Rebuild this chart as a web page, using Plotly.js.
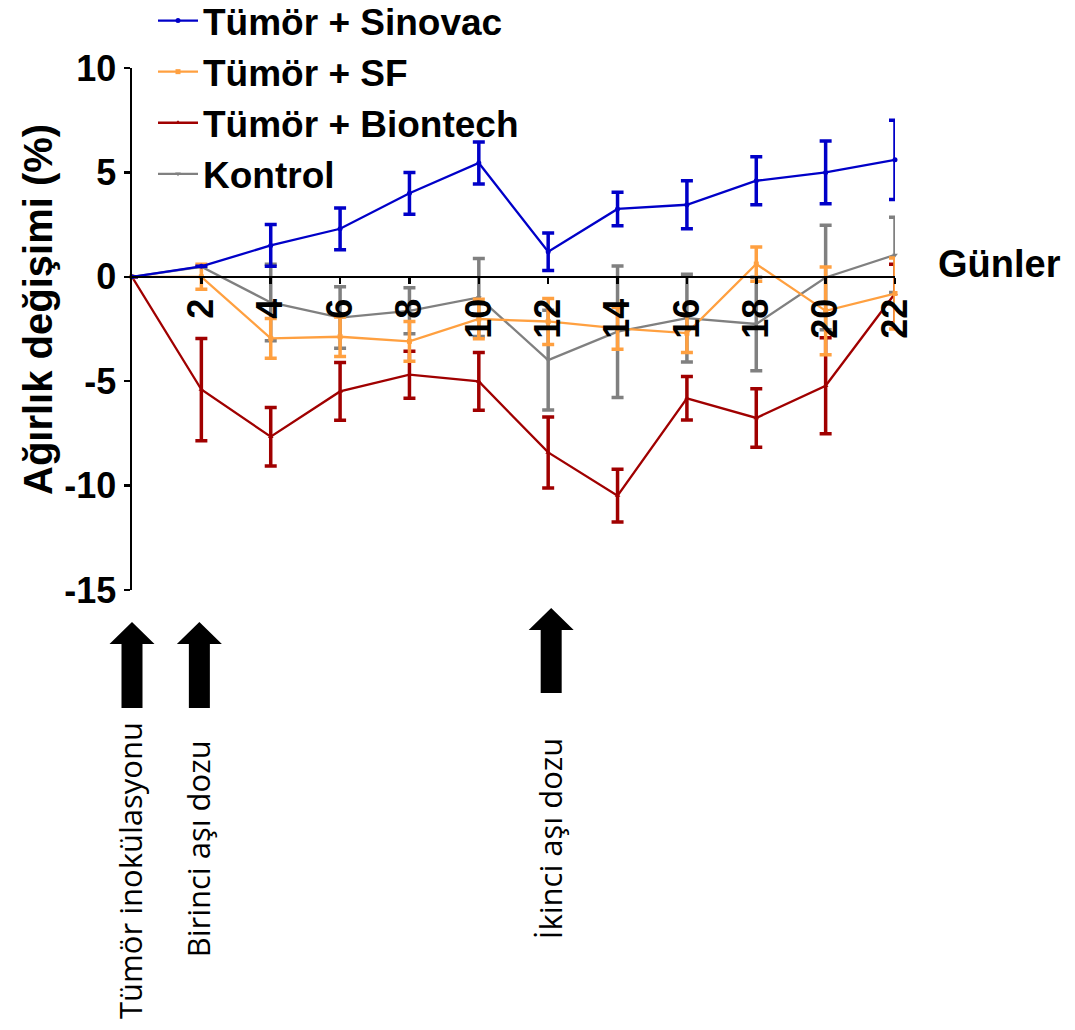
<!DOCTYPE html>
<html>
<head>
<meta charset="utf-8">
<script src="https://cdn.plot.ly/plotly-3.0.1.min.js"></script>
<style>html,body{margin:0;padding:0;background:#fff;}</style>
</head>
<body>
<div id="chart" style="width:1075px;height:1030px;"></div>
<script>
// ---- data ----
const days = [0, 2, 4, 6, 8, 10, 12, 14, 16, 18, 20, 22];
const seriesNames = ['Tümör + Sinovac', 'Tümör + SF', 'Tümör + Biontech', 'Kontrol'];

const sinovac    = [0, 0.5, 1.5, 2.3, 4.0, 5.45, 1.2, 3.25, 3.45, 4.6, 5.0, 5.6];
const sinovacErr = [0, 0, 1.0, 1.0, 1.0, 1.0, 0.9, 0.8, 1.15, 1.15, 1.5, 1.9];

const sf    = [0, 0.0, -2.95, -2.87, -3.09, -2.02, -2.14, -2.47, -2.7, 0.61, -1.63, -0.8];
const sfErr = [0, 0.6, 0.95, 0.95, 0.95, 0.95, 1.1, 1.0, 0.92, 0.82, 2.1, 1.7];

const biontech    = [0, -5.4, -7.66, -5.49, -4.69, -5.01, -8.41, -10.48, -5.82, -6.76, -5.22, -0.8];
const biontechErr = [0, 2.45, 1.4, 1.38, 1.13, 1.38, 1.7, 1.26, 1.04, 1.4, 2.3, 1.4];

const kontrol    = [0, 0.48, -1.23, -1.95, -1.63, -0.99, -3.99, -2.63, -1.98, -2.26, -0.03, 1.05];
const kontrolErr = [0, 0, 1.83, 1.47, 1.1, 1.87, 2.39, 3.15, 2.1, 2.24, 2.5, 1.8];

const xTickVals = [2, 4, 6, 8, 10, 12, 14, 16, 18, 20, 22];
const xTickText = ['2', '4', '6', '8', '10', '12', '14', '16', '18', '20', '22'];
const yTickVals = [-15, -10, -5, 0, 5, 10];
const yTickText = ['-15', '-10', '-5', '0', '5', '10'];

const eventDays = [0, 2, 12];
const eventLabels = ['Tümör inokülasyonu', 'Birinci aşı dozu', 'İkinci aşı dozu'];

const yTitle = 'Ağırlık değişimi (%)';
const xTitle = 'Günler';

// ---- layout helpers ----
const W = 1075, H = 1030;
const M = {l: 132, r: 180, t: 68, b: 440, autoexpand: false};
const plotW = W - M.l - M.r, plotH = H - M.t - M.b;
const xMin = 0, xMax = 22, yMin = -15, yMax = 10;
const px2xp = px => (px - M.l) / plotW;
const px2yp = py => (H - M.b - py) / plotH;
const day2xp = d => (d - xMin) / (xMax - xMin);

const FONT = 'Liberation Sans, Arial, sans-serif';

function mk(name, y, err, color, symbol, rank) {
  return {
    x: days, y: y, name: name, type: 'scatter', mode: 'lines+markers',
    line: {color: color, width: 2.3},
    marker: {color: color, symbol: symbol, size: 5},
    error_y: {type: 'data', array: err, visible: true, color: color, thickness: 3.5, width: 6},
    cliponaxis: false, legendrank: rank
  };
}

const traces = [
  mk(seriesNames[3], kontrol, kontrolErr, '#808080', 'triangle-down', 4),
  mk(seriesNames[2], biontech, biontechErr, '#A00000', 'triangle-up', 3),
  mk(seriesNames[1], sf, sfErr, '#FFA040', 'square', 2),
  mk(seriesNames[0], sinovac, sinovacErr, '#0000C8', 'circle', 1)
];

// arrows (block arrows under the axis)
const arrowGeom = [
  {tip: 622, head: 644, base: 708, dx: 0},
  {tip: 622, head: 644, base: 708, dx: -2},
  {tip: 608, head: 630, base: 693, dx: 3}
];
const shapes = eventDays.map((d, i) => {
  const g = arrowGeom[i];
  const yt = px2yp(g.tip), yh = px2yp(g.head), yb = px2yp(g.base);
  const s = g.dx;
  return {
    type: 'path', xref: 'paper', yref: 'paper', xsizemode: 'pixel', xanchor: day2xp(d),
    path: `M ${s-10.5},${yb} L ${s+10.5},${yb} L ${s+10.5},${yh} L ${s+22.5},${yh} L ${s},${yt} L ${s-22.5},${yh} L ${s-10.5},${yh} Z`,
    fillcolor: '#000', line: {width: 0}
  };
});

const textCenters = [871, 849, 838];
const textShift = [-2, -3, 2];
const annotations = eventDays.map((d, i) => ({
  xref: 'paper', yref: 'paper', x: day2xp(d), y: px2yp(textCenters[i]), xshift: textShift[i],
  text: eventLabels[i], textangle: -90, showarrow: false,
  xanchor: 'center', yanchor: 'middle',
  font: {family: 'Open Sans, Noto Sans, sans-serif', size: 31, color: '#000'}
}));
annotations.push({
  xref: 'paper', yref: 'paper', x: px2xp(38), y: px2yp(310),
  text: yTitle, textangle: -90, showarrow: false, xanchor: 'center', yanchor: 'middle',
  font: {family: FONT, size: 40, color: '#000', weight: 'bold'}
});
annotations.push({
  xref: 'paper', yref: 'paper', x: px2xp(999), y: px2yp(264),
  text: xTitle, showarrow: false, xanchor: 'center', yanchor: 'middle',
  font: {family: FONT, size: 38, color: '#000', weight: 'bold'}
});

const layout = {
  width: W, height: H, margin: M,
  paper_bgcolor: '#fff', plot_bgcolor: 'rgba(0,0,0,0)',
  showlegend: true,
  legend: {
    x: px2xp(153), y: px2yp(-10), xanchor: 'left', yanchor: 'top',
    itemwidth: 40,
    bgcolor: 'rgba(0,0,0,0)', borderwidth: 0,
    font: {family: FONT, size: 37, color: '#000', weight: 'bold'}
  },
  xaxis: {
    range: [xMin, xMax], anchor: 'free', position: (0 - yMin) / (yMax - yMin),
    showline: true, linecolor: '#000', linewidth: 2.5,
    ticks: 'outside', ticklen: 6, tickwidth: 2.5, tickcolor: '#000',
    tickvals: xTickVals, ticktext: xTickText, tickangle: -90,
    tickfont: {family: FONT, size: 36, color: '#000', weight: 'bold'},
    showgrid: false, zeroline: false, fixedrange: true
  },
  yaxis: {
    range: [yMin, yMax],
    showline: true, linecolor: '#000', linewidth: 2.5,
    ticks: 'outside', ticklen: 6, tickwidth: 2.5, tickcolor: '#000',
    tickvals: yTickVals, ticktext: yTickText,
    tickfont: {family: FONT, size: 36, color: '#000', weight: 'bold'},
    showgrid: false, zeroline: false, fixedrange: true
  },
  shapes: shapes,
  annotations: annotations
};

Plotly.newPlot('chart', traces, layout, {displayModeBar: false, staticPlot: true});
</script>
</body>
</html>
